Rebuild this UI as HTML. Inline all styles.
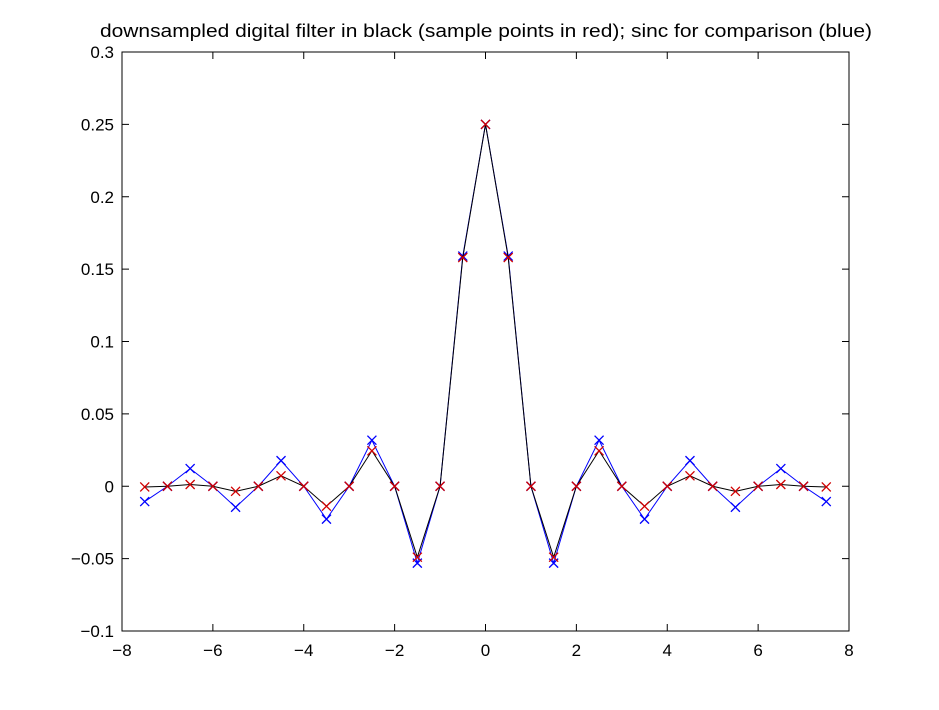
<!DOCTYPE html>
<html><head><meta charset="utf-8"><style>
body{margin:0;background:#fff;}
svg{display:block;font-family:"Liberation Sans",Arial,sans-serif;}
</style></head><body>
<svg id="chart" width="939" height="710" xmlns="http://www.w3.org/2000/svg">
<rect x="0" y="0" width="939" height="710" fill="#fff"/>
<text x="100" y="37" font-size="18" textLength="772" lengthAdjust="spacingAndGlyphs" fill="#000">downsampled digital filter in black (sample points in red); sinc for comparison (blue)</text>
<g id="plot"></g>
</svg>
<script>
const xs = [-7.5,-7,-6.5,-6,-5.5,-5,-4.5,-4,-3.5,-3,-2.5,-2,-1.5,-1,-0.5,0,0.5,1,1.5,2,2.5,3,3.5,4,4.5,5,5.5,6,6.5,7,7.5];
const sincVals = [-0.0106,0,0.0122,0,-0.0145,0,0.0177,0,-0.0227,0,0.0318,0,-0.0531,0,0.159,0.25,0.159,0,-0.0531,0,0.0318,0,-0.0227,0,0.0177,0,-0.0145,0,0.0122,0,-0.0106];
const filterVals = [-0.0005,0,0.0012,0,-0.0035,0,0.0072,0,-0.0138,0,0.0245,0,-0.049,0,0.158,0.25,0.158,0,-0.049,0,0.0245,0,-0.0138,0,0.0072,0,-0.0035,0,0.0012,0,-0.0005];
const xTicks = [-8,-6,-4,-2,0,2,4,6,8];
const xTickLabels = ["\u22128","\u22126","\u22124","\u22122","0","2","4","6","8"];
const yTicks = [-0.1,-0.05,0,0.05,0.1,0.15,0.2,0.25,0.3];
const yTickLabels = ["\u22120.1","\u22120.05","0","0.05","0.1","0.15","0.2","0.25","0.3"];

const L=122,R=849,T=52,B=631,xmin=-8,xmax=8,ymin=-0.1,ymax=0.3;
const sx=v=>L+(v-xmin)/(xmax-xmin)*(R-L);
const sy=v=>B-(v-ymin)/(ymax-ymin)*(B-T);
const NS="http://www.w3.org/2000/svg";
const g=document.getElementById('plot');
function mk(tag,attrs,parent){const e=document.createElementNS(NS,tag);for(const k in attrs)e.setAttribute(k,attrs[k]);(parent||g).appendChild(e);return e;}

const box=mk('rect',{x:L,y:T,width:R-L,height:B-T,fill:'none',stroke:'#000','stroke-width':1});



xTicks.forEach((t,i)=>{
  const x=sx(t);
  mk('line',{x1:x,y1:B,x2:x,y2:B-7,stroke:'#000'});
  mk('line',{x1:x,y1:T,x2:x,y2:T+7,stroke:'#000'});
  const tx=mk('text',{x:x,y:B+25,'font-size':17,'text-anchor':'middle'});
  tx.textContent=xTickLabels[i];
  
  
});
yTicks.forEach((t,i)=>{
  const y=sy(t);
  mk('line',{x1:L,y1:y,x2:L+7,y2:y,stroke:'#000'});
  mk('line',{x1:R,y1:y,x2:R-7,y2:y,stroke:'#000'});
  const tx=mk('text',{x:L-8,y:y+6,'font-size':17,'text-anchor':'end'});
  tx.textContent=yTickLabels[i];
  
  
});

function series(vals,lineColor,markColor,name){
  const pts=xs.map((x,i)=>sx(x)+','+sy(vals[i])).join(' ');
  const pl=mk('polyline',{points:pts,fill:'none',stroke:lineColor,'stroke-width':1});
  
  
  xs.forEach((x,i)=>{
    const cx=sx(x),cy=sy(vals[i]),s=4.5;
    const p=mk('path',{d:`M${cx-s},${cy-s}L${cx+s},${cy+s}M${cx-s},${cy+s}L${cx+s},${cy-s}`,stroke:markColor,'stroke-width':1.3,fill:'none'});
    
    
  });
}
series(sincVals,'#0000ff','#0000ff','sinc');
series(filterVals,'#000','#d00000','filter');
</script>
</body></html>
